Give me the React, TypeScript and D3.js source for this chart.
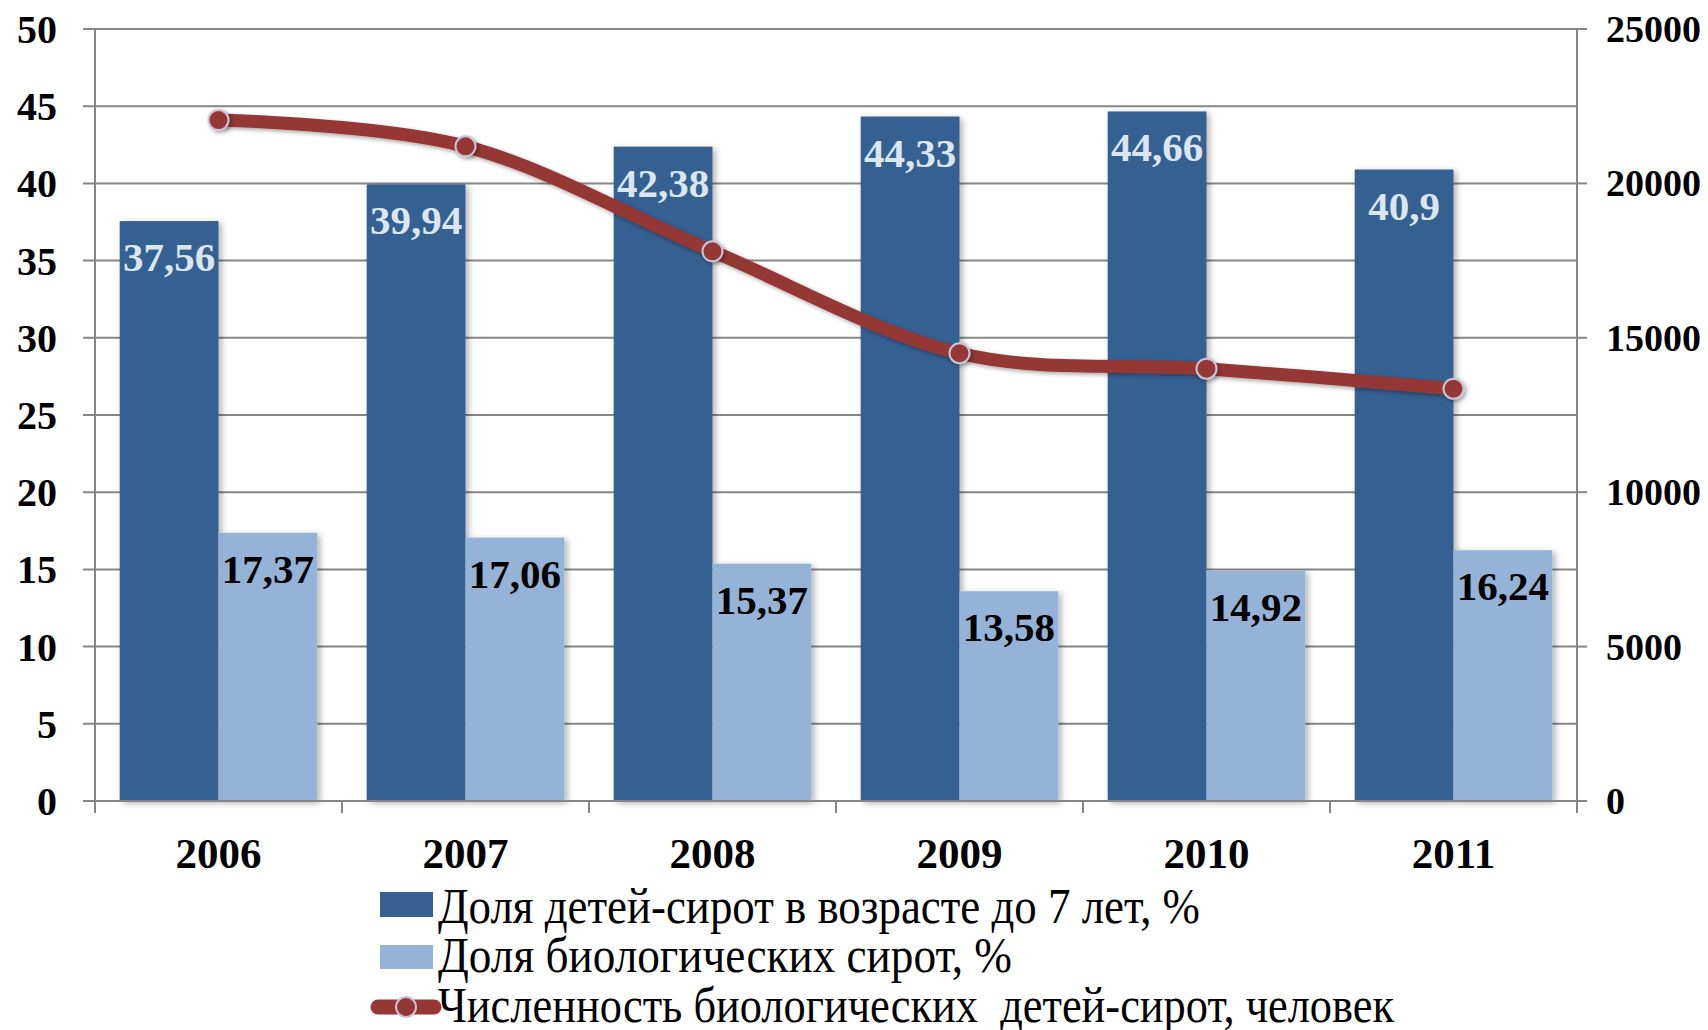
import React from "react";
import * as d3 from "d3";

const years = ["2006", "2007", "2008", "2009", "2010", "2011"];
const shareUnder7 = [37.56, 39.94, 42.38, 44.33, 44.66, 40.9];
const shareBio = [17.37, 17.06, 15.37, 13.58, 14.92, 16.24];
const countBio = [22050, 21200, 17800, 14500, 14000, 13350];
const leftTicks = [0, 5, 10, 15, 20, 25, 30, 35, 40, 45, 50];
const rightTicks = [0, 5000, 10000, 15000, 20000, 25000];
const seriesNames = [
  "Доля детей-сирот в возрасте до 7 лет, %",
  "Доля биологических сирот, %",
  "Численность биологических  детей-сирот, человек",
];
const fmt = (v: number) => String(v).replace(".", ",");

const W = 1708;
const H = 1030;
const L = 95;
const R = 1577;
const T = 29;
const B = 801;

const DARK = "#366092";
const LIGHT = "#95b3d7";
const RED = "#953735";
const GRID = "#868686";
const FF = '"Liberation Serif"';

const bold = (size: number): React.CSSProperties => ({ fontFamily: FF, fontWeight: "bold", fontSize: size });

export default function App() {
  const x = d3.scaleBand<string>().domain(years).range([L, R]).paddingInner(0.2).paddingOuter(0.1);
  const sub = d3.scaleBand<string>().domain(["a", "b"]).range([0, x.bandwidth()]);
  const y = d3.scaleLinear().domain([0, 50]).range([B, T]);
  const y2 = d3.scaleLinear().domain([0, 25000]).range([B, T]);
  const step = x.step();
  const boundaries = d3.range(years.length + 1).map((i) => L + i * step);

  const pts: [number, number][] = years.map((yr, i) => [x(yr)! + x.bandwidth() / 2, y2(countBio[i])]);
  const line = d3.line().curve(d3.curveCardinal.tension(0))(pts) || "";

  const legendTextWidths = [762, 574, 956];
  const legendBase = [923, 972, 1022];

  return (
    <svg width={W} height={H} style={{ position: "absolute", left: 0, top: 0, background: "#fff" }}>
      <defs>
        <filter id="shadow" x="-10%" y="-10%" width="130%" height="130%">
          <feDropShadow dx="3" dy="2" stdDeviation="3" floodColor="#000" floodOpacity="0.3" />
        </filter>
        <filter id="mshadow" x="-50%" y="-50%" width="200%" height="200%">
          <feDropShadow dx="2" dy="2" stdDeviation="2" floodColor="#000" floodOpacity="0.35" />
        </filter>
      </defs>
      <rect x={0} y={0} width={W} height={H} fill="#fff" />
      {leftTicks.map((t) => (
        <line key={"g" + t} x1={L - 12} x2={R} y1={y(t)} y2={y(t)} stroke={GRID} strokeWidth={2} />
      ))}
      {rightTicks.map((t) => (
        <line key={"rt" + t} x1={R} x2={R + 10} y1={y2(t)} y2={y2(t)} stroke={GRID} strokeWidth={2} />
      ))}
      <line x1={L} x2={L} y1={T} y2={B + 12} stroke={GRID} strokeWidth={2} />
      <line x1={R} x2={R} y1={T} y2={B + 12} stroke={GRID} strokeWidth={2} />
      {boundaries.map((bx, i) => (
        <line key={"xt" + i} x1={bx} x2={bx} y1={B} y2={B + 12} stroke={GRID} strokeWidth={2} />
      ))}
      <g filter="url(#shadow)">
        {years.map((yr, i) => (
          <g key={"b" + yr}>
            <rect x={x(yr)! + sub("a")!} y={y(shareUnder7[i])} width={sub.bandwidth()} height={B - y(shareUnder7[i])} fill={DARK} />
            <rect x={x(yr)! + sub("b")!} y={y(shareBio[i])} width={sub.bandwidth()} height={B - y(shareBio[i])} fill={LIGHT} />
          </g>
        ))}
      </g>
      <line x1={L} x2={R} y1={B} y2={B} stroke={GRID} strokeWidth={2} />
      {years.map((yr, i) => (
        <g key={"l" + yr}>
          <text x={x(yr)! + sub("a")! + sub.bandwidth() / 2} y={y(shareUnder7[i]) + 50} fill="#dce6f2" textAnchor="middle" style={bold(41)}>
            {fmt(shareUnder7[i])}
          </text>
          <text x={x(yr)! + sub("b")! + sub.bandwidth() / 2} y={y(shareBio[i]) + 50} fill="#000" textAnchor="middle" style={bold(41)}>
            {fmt(shareBio[i])}
          </text>
        </g>
      ))}
      <path d={line} fill="none" stroke={RED} strokeWidth={13} strokeLinecap="round" filter="url(#mshadow)" />
      {pts.map((p, i) => (
        <circle key={"m" + i} cx={p[0]} cy={p[1]} r={10} fill={RED} stroke="#c9c3d6" strokeWidth={2} filter="url(#mshadow)" />
      ))}
      {leftTicks.map((t) => (
        <text key={"lt" + t} x={57} y={y(t) + 14} textAnchor="end" style={bold(40)}>
          {t}
        </text>
      ))}
      {rightTicks.map((t) => (
        <text key={"rl" + t} x={1606} y={y2(t) + 13} textAnchor="start" style={bold(38)}>
          {t}
        </text>
      ))}
      {years.map((yr) => (
        <text key={"xl" + yr} x={x(yr)! + x.bandwidth() / 2} y={868} textAnchor="middle" style={bold(43)}>
          {yr}
        </text>
      ))}
      <rect x={380} y={892} width={53} height={25} fill={DARK} />
      <rect x={380} y={945} width={53} height={24} fill={LIGHT} />
      <line x1={378} x2={434} y1={1007} y2={1007} stroke={RED} strokeWidth={15} strokeLinecap="round" />
      <circle cx={406} cy={1007} r={10} fill={RED} stroke="#c9c3d6" strokeWidth={2} />
      {seriesNames.map((s, i) => (
        <text
          key={"lg" + i}
          x={438}
          y={legendBase[i]}
          textLength={legendTextWidths[i]}
          lengthAdjust="spacingAndGlyphs"
          style={{ whiteSpace: "pre", fontSize: 50, fontFamily: FF }}
        >
          {s}
        </text>
      ))}
    </svg>
  );
}
